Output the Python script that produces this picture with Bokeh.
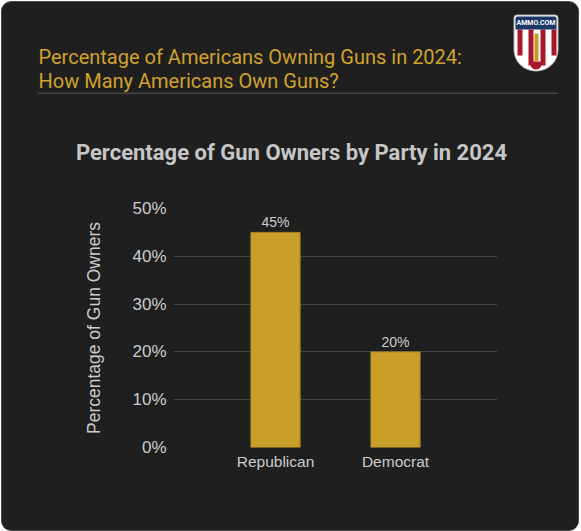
from bokeh.plotting import figure
from bokeh.models import (ColumnDataSource, FactorRange, Range1d, FixedTicker,
                          PrintfTickFormatter, Label, LabelSet, BoxAnnotation)
from bokeh.core.properties import value
from bokeh.embed import file_html
from bokeh.resources import INLINE

# ---------------- data ----------------
parties = ["Republican", "Democrat"]
owners_pct = [45, 20]
y_ticks = [0, 10, 20, 30, 40, 50]
headline_lines = ["Percentage of Americans Owning Guns in 2024:",
                  "How Many Americans Own Guns?"]
chart_title = "Percentage of Gun Owners by Party in 2024"
y_axis_title = "Percentage of Gun Owners"
logo_text = "AMMO.COM"

# ---------------- styles ----------------
CARD = "#1f1f1f"
EDGE = "#4a4a4a"
GOLD_TXT = "#d1a22c"
BAR = "#c99e29"
TXT = "#cccccc"
GRID = "#444444"
AXFONT = "Liberation Sans"
W = 576
HDR_H = 196
CH_H = 332

# ---------------- header (titles, separator, logo) ----------------
hdr = figure(width=W, height=HDR_H, x_range=Range1d(0, W), y_range=Range1d(HDR_H, 0),
             x_axis_location=None, y_axis_location=None, title=None,
             output_backend="svg", toolbar_location=None, min_border=0,
             background_fill_color=CARD, border_fill_color=CARD,
             outline_line_color=None,
             styles={"border-radius": "9px 9px 0 0", "overflow": "hidden",
                     "vertical-align": "top", "margin": "2px 0 0 2px",
                     "background-color": CARD,
                     "box-shadow": f"-1px 0 0 {EDGE}, 1px 0 0 {EDGE}, 0 -1px 0 {EDGE}"})
hdr.grid.visible = False

for i, t in enumerate(headline_lines):
    hdr.add_layout(Label(x=36, y=54.3 + 23.7 * i, text=t, text_font="Roboto",
                         text_font_size="20px", text_color=GOLD_TXT,
                         text_baseline="alphabetic", text_align="left"))

hdr.add_layout(BoxAnnotation(left=35, right=555, top=90, bottom=91.5,
                             fill_color="#454545", fill_alpha=1, line_color=None))

hdr.add_layout(Label(x=289, y=149.7, text=chart_title, text_font="Roboto",
                     text_font_size="22px", text_font_style="bold",
                     text_color="#c6c6c6", text_baseline="alphabetic",
                     text_align="center"))

# logo (approximate shield)
def box(l, r, t, b, **kw):
    return BoxAnnotation(left=l, right=r, top=t, bottom=b, fill_alpha=1, **kw)

hdr.add_layout(box(511, 556, 12, 69, fill_color="#ffffff", line_color="#111111",
                   line_width=2, border_radius=(4, 4, 22, 22)))
for l, r, b in [(515, 520, 53), (526, 531, 63), (538, 543, 63), (549, 554, 53)]:
    hdr.add_layout(box(l, r, 27, b, fill_color="#a5192a", line_color=None))
hdr.add_layout(box(528, 539, 59, 67, fill_color="#a5192a", line_color=None,
                   border_radius=(0, 0, 5, 5)))
hdr.add_layout(box(532, 536, 31, 59, fill_color="#c79a22", line_color=None))
hdr.add_layout(box(513, 554, 14, 27, fill_color="#1d3867", line_color=None,
                   border_radius=(2, 2, 0, 0)))
hdr.add_layout(Label(x=533.5, y=20.5, text=logo_text, text_font="Roboto",
                     text_font_size="7px", text_font_style="bold",
                     text_color="#ffffff", text_baseline="middle",
                     text_align="center"))

# ---------------- chart ----------------
src = ColumnDataSource(dict(party=parties, pct=owners_pct,
                            lbl=[f"{v}%" for v in owners_pct]))

ch = figure(x_range=FactorRange(factors=parties, range_padding=0.35,
                                range_padding_units="absolute"),
            y_range=Range1d(0, 50), width=W, height=CH_H, title=None,
            output_backend="svg", toolbar_location=None,
            min_border_left=171, min_border_right=81,
            min_border_top=10, min_border_bottom=83,
            background_fill_color=CARD, border_fill_color=CARD,
            outline_line_color=None,
            styles={"border-radius": "0 0 9px 9px", "overflow": "hidden",
                    "vertical-align": "top", "margin": "0 0 0 2px",
                    "background-color": CARD,
                    "box-shadow": f"-1px 0 0 {EDGE}, 1px 0 0 {EDGE}, 0 1px 0 {EDGE}"})

ch.vbar(x="party", top="pct", width=0.41, source=src,
        fill_color=BAR, line_color="#a9851f", line_width=1)

ch.add_layout(LabelSet(x="party", y="pct", text="lbl", source=src,
                       y_offset=5, text_align="center", text_baseline="alphabetic",
                       text_font=value(AXFONT), text_font_size=value("14px"),
                       text_color=TXT))

ch.yaxis.ticker = FixedTicker(ticks=y_ticks)
ch.yaxis.formatter = PrintfTickFormatter(format="%d%%")
for ax in (ch.xaxis, ch.yaxis):
    ax.axis_line_color = None
    ax.major_tick_line_color = None
    ax.minor_tick_line_color = None
    ax.major_tick_out = 0
    ax.major_tick_in = 0
    ax.minor_tick_out = 0
    ax.minor_tick_in = 0
    ax.major_label_text_font = AXFONT
    ax.major_label_text_color = TXT
ch.yaxis.major_label_text_font_size = "17px"
ch.yaxis.major_label_standoff = 7
ch.xaxis.major_label_text_font_size = "15.5px"
ch.xaxis.major_label_standoff = 5
ch.yaxis.axis_label = y_axis_title
ch.yaxis.axis_label_text_font = AXFONT
ch.yaxis.axis_label_text_font_size = "17.5px"
ch.yaxis.axis_label_text_font_style = "normal"
ch.yaxis.axis_label_text_color = TXT
ch.yaxis.axis_label_standoff = 25

ch.xgrid.grid_line_color = None
ch.ygrid.grid_line_color = GRID
ch.ygrid.grid_line_width = 1

p = [hdr, ch]
open("out.html", "w").write(file_html(p, INLINE))
